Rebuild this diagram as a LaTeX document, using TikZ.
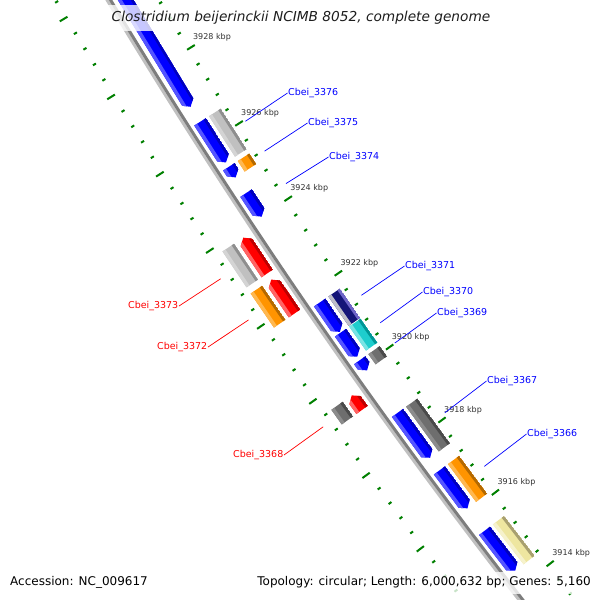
\documentclass[tikz,border=0pt]{standalone}
\usepackage{fontspec}
\setmainfont{DejaVu Sans}[ItalicFont=* Oblique]
\usetikzlibrary{calc}
\definecolor{tkgreen}{RGB}{0,128,0}
\definecolor{bbl}{RGB}{192,192,192}
\definecolor{bbd}{RGB}{125,125,125}
\definecolor{gblue}{RGB}{0,0,255}
\definecolor{gbluel}{RGB}{85,85,255}
\definecolor{gblued}{RGB}{0,0,190}
\definecolor{gred}{RGB}{255,0,0}
\definecolor{gredl}{RGB}{255,100,100}
\definecolor{gredd}{RGB}{190,0,0}
\definecolor{ggray}{RGB}{192,192,192}
\definecolor{ggrayl}{RGB}{212,212,212}
\definecolor{ggrayd}{RGB}{142,142,142}
\definecolor{gor}{RGB}{255,148,0}
\definecolor{gorl}{RGB}{255,184,80}
\definecolor{gord}{RGB}{180,105,0}
\definecolor{gcy}{RGB}{30,205,205}
\definecolor{gcyl}{RGB}{120,228,228}
\definecolor{gcyd}{RGB}{0,150,150}
\definecolor{gdk}{RGB}{110,110,110}
\definecolor{gdkl}{RGB}{140,140,140}
\definecolor{gdkd}{RGB}{74,74,74}
\definecolor{gye}{RGB}{238,230,160}
\definecolor{gyel}{RGB}{246,242,204}
\definecolor{gyed}{RGB}{168,160,112}
\definecolor{gnv}{RGB}{20,20,120}
\definecolor{gnvl}{RGB}{190,190,200}
\definecolor{gnvd}{RGB}{110,100,200}
\definecolor{kbptext}{RGB}{50,50,50}
\newcommand\gpathbox{($(C)+(\gTa:\gA)$) -- ($(C)+(\gTb:\gA)$) -- ($(C)+(\gTb:\gB)$) -- ($(C)+(\gTa:\gB)$) -- cycle}
\newcommand\gpathfwd{($(C)+(\gTa:\gA)$) -- ($(C)+(\gHb:\gA)$) -- ($(C)+(\gTb:\gM)$) -- ($(C)+(\gHb:\gB)$) -- ($(C)+(\gTa:\gB)$) -- cycle}
\newcommand\gpathrev{($(C)+(\gHa:\gA)$) -- ($(C)+(\gTb:\gA)$) -- ($(C)+(\gTb:\gB)$) -- ($(C)+(\gHa:\gB)$) -- ($(C)+(\gTa:\gM)$) -- cycle}
\newcommand\gfeat[8]{%
  \pgfmathsetmacro\gTa{#1}%
  \pgfmathsetmacro\gTb{#2}%
  \pgfmathsetmacro\gA{#3-#8}%
  \pgfmathsetmacro\gB{#3+#8}%
  \pgfmathsetmacro\gM{#3}%
  \pgfmathsetmacro\gAl{#3-#8+3}%
  \pgfmathsetmacro\gBl{#3+#8-3.5}%
  \pgfmathsetmacro\gHa{#1+0.055}%
  \pgfmathsetmacro\gHb{#2-0.055}%
  \pgfmathsetmacro\gXa{#1-0.2}%
  \pgfmathsetmacro\gXb{#2+0.2}%
  \begin{scope}
    \clip #4;
    \fill[#5] ($(C)+(\gXa:\gA)$) -- ($(C)+(\gXb:\gA)$) -- ($(C)+(\gXb:\gB)$) -- ($(C)+(\gXa:\gB)$) -- cycle;
    \fill[#6] ($(C)+(\gXa:\gBl)$) -- ($(C)+(\gXb:\gBl)$) -- ($(C)+(\gXb:\gB)$) -- ($(C)+(\gXa:\gB)$) -- cycle;
    \fill[#7] ($(C)+(\gXa:\gA)$) -- ($(C)+(\gXb:\gA)$) -- ($(C)+(\gXb:\gAl)$) -- ($(C)+(\gXa:\gAl)$) -- cycle;
  \end{scope}}
\tikzset{
  tick/.style={tkgreen, line width=2pt, line cap=butt},
  kbp/.style={font=\fontsize{8}{9}\selectfont, text=kbptext, inner sep=0pt},
  rlbl/.style={font=\fontsize{9.5}{11}\selectfont, text=gblue, inner sep=0.5pt, anchor=west},
  llbl/.style={font=\fontsize{9.5}{11}\selectfont, text=gred, inner sep=0.5pt, anchor=east},
  rline/.style={gblue, line width=0.7pt},
  lline/.style={gred, line width=0.7pt},
  band/.style={white, opacity=0.78},
  legend/.style={font=\fontsize{12}{14}\selectfont, text=black, inner sep=0pt}
}
\begin{document}
\begin{tikzpicture}[x=1pt,y=1pt]
\useasboundingbox (0,0) rectangle (600,-600);
\fill[white] (0,0) rectangle (600,-600);
\begin{scope}
\clip (0,0) rectangle (600,-600);
\coordinate (C) at (5262,3098);
% backbone
\draw[line width=3pt, bbl] ($(C)+(209.5:6014.5)$) arc[start angle=209.5, end angle=219.5, radius=6014.5pt];
\draw[line width=3pt, bbd] ($(C)+(209.5:6011.5)$) arc[start angle=209.5, end angle=219.5, radius=6011.5pt];
% inner genes: CDS arrows (ring 1) and category boxes (ring 2)
\gfeat{210.3}{212.29}{5999.5}{\gpathfwd}{gblue}{gbluel}{gblued}{7}
\gfeat{212.46}{212.92}{5999.5}{\gpathfwd}{gblue}{gbluel}{gblued}{7}
\gfeat{212.46}{212.92}{5982}{\gpathbox}{ggray}{ggrayl}{ggrayd}{7}
\gfeat{212.97}{213.09}{5999.5}{\gpathfwd}{gblue}{gbluel}{gblued}{7}
\gfeat{212.97}{213.09}{5982}{\gpathbox}{gor}{gorl}{gord}{7}
\gfeat{213.27}{213.54}{5999.5}{\gpathfwd}{gblue}{gbluel}{gblued}{7}
\gfeat{214.53}{214.87}{5999.5}{\gpathfwd}{gblue}{gbluel}{gblued}{7}
\gfeat{214.53}{214.87}{5982}{\gpathbox}{gnv}{gnvl}{gnvd}{7}
\gfeat{214.88}{215.16}{5999.5}{\gpathfwd}{gblue}{gbluel}{gblued}{7}
\gfeat{214.88}{215.16}{5982}{\gpathbox}{gcy}{gcyl}{gcyd}{7}
\gfeat{215.20}{215.32}{5999.5}{\gpathfwd}{gblue}{gbluel}{gblued}{7}
\gfeat{215.20}{215.32}{5982}{\gpathbox}{gdk}{gdkl}{gdkd}{7}
\gfeat{215.82}{216.35}{5999.5}{\gpathfwd}{gblue}{gbluel}{gblued}{7}
\gfeat{215.82}{216.35}{5982}{\gpathbox}{gdk}{gdkl}{gdkd}{7}
\gfeat{216.50}{216.95}{5999.5}{\gpathfwd}{gblue}{gbluel}{gblued}{7}
\gfeat{216.50}{216.95}{5982}{\gpathbox}{gor}{gorl}{gord}{7}
\gfeat{217.22}{217.70}{5999.5}{\gpathfwd}{gblue}{gbluel}{gblued}{7}
\gfeat{217.22}{217.70}{5982}{\gpathbox}{gye}{gyel}{gyed}{7}
% outer genes
\gfeat{213.61}{214.02}{6026.5}{\gpathrev}{gred}{gredl}{gredd}{7}
\gfeat{213.61}{214.02}{6044.5}{\gpathbox}{ggray}{ggrayl}{ggrayd}{7}
\gfeat{214.09}{214.48}{6026.5}{\gpathrev}{gred}{gredl}{gredd}{7}
\gfeat{214.09}{214.48}{6044.5}{\gpathbox}{gor}{gorl}{gord}{7}
\gfeat{215.43}{215.60}{6026.5}{\gpathrev}{gred}{gredl}{gredd}{7}
\gfeat{215.43}{215.60}{6044.5}{\gpathbox}{gdk}{gdkl}{gdkd}{7}
\gfeat{217.86}{219.00}{6026.5}{\gpathrev}{gred}{gredl}{gredd}{7}
% ticks
\foreach \i in {0,...,55}{
  \pgfmathsetmacro\th{210.084+0.1726*\i}
  \pgfmathtruncatemacro\mj{(mod(\i,5)==0)?1:0}
  \ifnum\mj=1
    \draw[tick] ($(C)+(\th:5972)$) -- ($(C)+(\th:5963)$);
    \draw[tick] ($(C)+(\th:6057)$) -- ($(C)+(\th:6066)$);
  \else
    \draw[tick] ($(C)+(\th:5972)$) -- ($(C)+(\th:5968.5)$);
    \draw[tick] ($(C)+(\th:6057)$) -- ($(C)+(\th:6060.5)$);
  \fi
}
% tick labels (visible ones only)
\foreach \i in {10,15,...,45}{
  \pgfmathsetmacro\th{210.084+0.1726*\i}
  \pgfmathtruncatemacro\kk{round(3932-0.4*\i)}
  \node[kbp, anchor=west] (k\kk) at ($(C)+(\th:5967.5)+(2,10)$) {\kk\ kbp};
}
% labels and leader lines
\coordinate (s3376) at ($(C)+(212.69:5961)$);
\coordinate (s3375) at ($(C)+(213.03:5961)$);
\coordinate (s3374) at ($(C)+(213.405:5961)$);
\coordinate (s3371) at ($(C)+(214.70:5961)$);
\coordinate (s3370) at ($(C)+(215.02:5961)$);
\coordinate (s3369) at ($(C)+(215.26:5961)$);
\coordinate (s3367) at ($(C)+(216.085:5961)$);
\coordinate (s3366) at ($(C)+(216.725:5961)$);
\coordinate (s3373) at ($(C)+(213.815:6068)$);
\coordinate (s3372) at ($(C)+(214.285:6068)$);
\coordinate (s3368) at ($(C)+(215.515:6068)$);
\node[rlbl] (L3376) at (287.5,-93) {Cbei\_3376};
\node[rlbl] (L3375) at (307.5,-123) {Cbei\_3375};
\node[rlbl] (L3374) at (328.5,-157) {Cbei\_3374};
\node[rlbl] (L3371) at (404.5,-266) {Cbei\_3371};
\node[rlbl] (L3370) at (422.5,-292) {Cbei\_3370};
\node[rlbl] (L3369) at (436.5,-313) {Cbei\_3369};
\node[rlbl] (L3367) at (486.5,-381) {Cbei\_3367};
\node[rlbl] (L3366) at (526.5,-434) {Cbei\_3366};
\node[llbl] (L3373) at (179,-306) {Cbei\_3373};
\node[llbl] (L3372) at (208,-347) {Cbei\_3372};
\node[llbl] (L3368) at (284,-455) {Cbei\_3368};
\foreach \g in {3376,3375,3374,3371,3370,3369,3367,3366}{\draw[rline] (s\g) -- (L\g.west);}
\foreach \g in {3373,3372,3368}{\draw[lline] (s\g) -- (L\g.east);}
% legend backgrounds
\fill[band] (100,-5) rectangle (502,-31);
\fill[band] (4,-572) rectangle (151,-594);
\fill[band] (256,-572) rectangle (596,-594);
\end{scope}
\node[font=\fontsize{13.7}{16}\selectfont\itshape, text={rgb,255:red,30;green,30;blue,30}, inner sep=0pt] (title) at (301,-18) {Clostridium beijerinckii NCIMB 8052, complete genome};
\node[legend, anchor=west] (acc) at (10,-582) {Accession: NC\_009617};
\node[legend, anchor=east] (topo) at (591,-582) {Topology: circular; Length: 6,000,632 bp; Genes: 5,160};
\end{tikzpicture}
\end{document}
